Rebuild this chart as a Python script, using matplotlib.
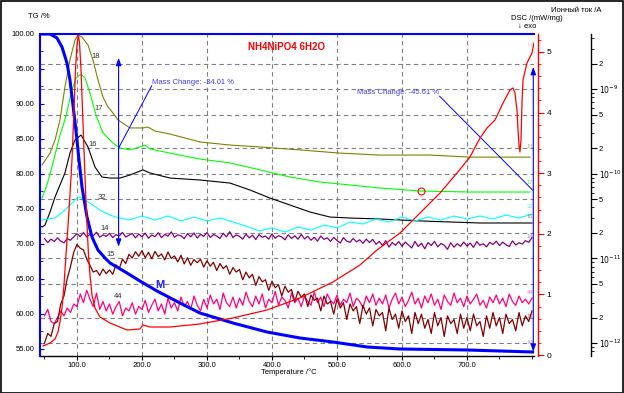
import numpy as np
import matplotlib
matplotlib.use("Agg")
import matplotlib.pyplot as plt
from matplotlib.ticker import (FixedLocator, MultipleLocator, LogLocator,
                               NullFormatter, FuncFormatter)
from matplotlib.patches import Rectangle

plt.rcParams['font.family'] = ['Liberation Sans', 'DejaVu Sans']

W, H = 624, 393

# ---- TG, mass %
tg_t = [43, 58.5, 69.2, 76.9, 84.6, 89.2, 93.8, 96.9, 100.0, 103.1, 107.7, 115.4,
        123.1, 132.3, 143.1, 150.8, 176.9, 196.9, 223.0, 258.5, 289.2, 340.0,
        392.3, 443.1, 493.8, 546.2, 596.9, 700.0, 801.5]
tg_m = [100, 100, 99.43, 98.14, 95.86, 93.43, 89.86, 87.43, 84.86, 82.0, 78.14, 73.86,
        71.0, 69.14, 68.0, 67.29, 65.86, 64.71, 63.29, 61.57, 60.14, 58.71,
        57.43, 56.57, 56.0, 55.29, 55.0, 54.86, 54.57]

# ---- DSC, mW/mg
dsc_t = [47.7, 58.5, 66.2, 70.8, 73.8, 76.9, 80.0, 83.1, 86.2, 89.2, 92.3, 95.4, 97.7,
         100.0, 102.0, 103.8, 106.2, 108.5, 110.8, 113.1, 115.4, 117.7, 120.0, 123.1,
         127.7, 135.4, 150.8, 176.9, 196.9, 201.5, 212.3, 243.1, 289.2, 340.0, 392.3,
         443.1, 493.8, 535.4, 561.5, 596.9, 627.7, 658.5, 684.6, 704.6, 720.0, 730.8,
         743.1, 755.4, 766.2, 770.8, 773.8, 776.9, 778.5, 780.0, 781.5, 783.1, 784.6,
         786.2, 792.3, 800.0, 803.0]
dsc_v = [0.149, 0.198, 0.264, 0.380, 0.545, 0.776, 1.155, 1.650, 2.145, 2.640, 3.218,
         4.043, 4.703, 5.116, 5.281, 5.165, 4.703, 4.043, 3.383, 2.723, 2.145, 1.650,
         1.320, 0.990, 0.776, 0.627, 0.528, 0.413, 0.429, 0.495, 0.462, 0.462, 0.512,
         0.611, 0.743, 0.941, 1.205, 1.485, 1.733, 2.013, 2.343, 2.673, 3.003, 3.267,
         3.581, 3.746, 3.878, 4.158, 4.373, 4.406, 4.323, 4.043, 3.713, 3.465, 3.350,
         3.548, 4.158, 4.538, 4.818, 4.983, 5.149]

# ---- ion currents, A
ms18_t = [46.2, 58.5, 66.2, 73.8, 81.5, 89.2, 96.9, 101.5, 107.7, 116.9, 124.6, 132.3,
          140.0, 147.7, 155.4, 163.1, 181.5, 201.5, 209.2, 220.0, 243.1, 289.2, 335.4,
          381.5, 443.1, 504.6, 566.2, 643.1, 704.6, 796.9]
ms18_i = [1.27e-10, 1.75e-10, 2.50e-10, 4.31e-10, 1.06e-9, 2.20e-9, 3.79e-9, 4.35e-9,
          4.11e-9, 3.30e-9, 2.20e-9, 1.28e-9, 8.04e-10, 6.13e-10, 5.21e-10, 4.31e-10,
          3.47e-10, 3.47e-10, 3.56e-10, 3.19e-10, 2.94e-10, 2.37e-10, 2.18e-10,
          2.07e-10, 1.91e-10, 1.75e-10, 1.66e-10, 1.66e-10, 1.57e-10, 1.57e-10]

ms17_t = [46.2, 53.8, 63.1, 73.8, 81.5, 86.2, 92.3, 98.5, 106.2, 112.3, 120.0, 129.2,
          140.0, 155.4, 166.2, 181.5, 196.9, 204.6, 212.3, 243.1, 289.2, 335.4, 381.5,
          427.7, 473.8, 520.0, 566.2, 627.7, 704.6, 796.9]
ms17_i = [5.16e-11, 7.36e-11, 1.34e-10, 2.86e-10, 4.31e-10, 6.13e-10, 9.7e-10, 1.35e-9,
          1.50e-9, 1.35e-9, 8.97e-10, 4.93e-10, 3.03e-10, 2.30e-10, 2.01e-10, 1.91e-10,
          2.07e-10, 2.18e-10, 1.96e-10, 1.75e-10, 1.49e-10, 1.34e-10, 1.11e-10,
          9.14e-11, 7.98e-11, 7.36e-11, 6.78e-11, 6.25e-11, 6.08e-11, 6.08e-11]

ms16_t = [46.2, 50.8, 58.5, 66.2, 73.8, 81.5, 89.2, 96.9, 106.2, 116.9, 127.7, 138.5,
          150.8, 166.2, 181.5, 201.5, 212.3, 243.1, 289.2, 335.4, 366.2, 396.9, 427.7,
          458.5, 489.2, 520.0, 566.2, 627.7, 720.0, 800.0]
ms16_i = [2.35e-11, 2.48e-11, 3.53e-11, 5.31e-11, 7.36e-11, 1.02e-10, 1.75e-10, 2.50e-10,
          2.86e-10, 2.07e-10, 1.20e-10, 9.14e-11, 8.89e-11, 8.89e-11, 9.66e-11, 1.11e-10,
          1.02e-10, 8.89e-11, 8.43e-11, 7.76e-11, 6.42e-11, 5.16e-11, 4.27e-11,
          3.53e-11, 3.08e-11, 3.00e-11, 2.92e-11, 2.77e-11, 2.62e-11, 2.62e-11]

ms32_t = [46.2, 66.2, 81.5, 96.9, 104.6, 120.0, 135.4, 150.8, 160, 180, 200, 220, 240,
          260, 280, 300, 320, 340, 360, 380, 400, 420, 440, 460, 480, 500, 520, 540,
          560, 580, 600, 620, 640, 660, 680, 700, 720, 740, 760, 780, 800]
ms32_i = [2.84e-11, 3.00e-11, 3.72e-11, 4.89e-11, 5.31e-11, 4.51e-11, 3.72e-11, 3.25e-11,
          3.08e-11, 2.84e-11, 3.17e-11, 2.84e-11, 3.17e-11, 2.77e-11, 3.08e-11, 2.77e-11,
          3.00e-11, 2.69e-11, 2.41e-11, 2.11e-11, 2.29e-11, 2.05e-11, 2.35e-11, 2.16e-11,
          2.48e-11, 2.29e-11, 2.69e-11, 2.55e-11, 2.92e-11, 2.69e-11, 3.08e-11, 2.77e-11,
          3.08e-11, 2.84e-11, 3.17e-11, 2.92e-11, 3.17e-11, 2.92e-11, 3.25e-11, 3.00e-11,
          3.34e-11]

# noisy channels, read every 5 C from 50 to 800, in pA
t5 = np.arange(50, 801, 5)
ms14_pa = [17.2, 15.4, 16.9, 15.8, 17.5, 16.0, 15.3, 17.1, 16.4, 18.0,
           19.6, 18.1, 20.2, 17.9, 19.3, 18.5, 20.4, 17.8, 19.0, 18.2,
           19.8, 17.6, 19.1, 18.4, 20.3, 17.9, 18.8, 19.7, 17.5, 19.4,
           18.0, 19.9, 17.3, 18.9, 18.1, 20.1, 17.6, 19.2, 18.3, 20.6,
           17.8, 19.0, 18.5, 17.1, 19.6, 18.0, 20.0, 17.4, 19.3, 18.2,
           20.2, 17.7, 19.1, 18.4, 17.2, 19.8, 18.0, 20.7, 17.6, 19.0,
           18.2, 16.9, 19.4, 17.5, 18.8, 16.7, 19.1, 17.8, 18.4, 16.9,
           19.5, 17.3, 18.6, 17.9, 16.6, 19.0, 17.2, 18.5, 16.9, 19.2,
           17.0, 18.3, 16.4, 17.8, 16.0, 18.4, 16.8, 17.5, 15.9, 17.7,
           16.3, 15.2, 17.6, 16.0, 15.5, 17.2, 15.7, 16.6, 15.1, 16.9,
           15.4, 16.8, 14.7, 15.9, 14.2, 16.2, 13.6, 15.4, 14.3, 15.8,
           13.9, 15.6, 14.4, 13.3, 15.9, 13.8, 15.1, 13.0, 15.4, 14.2,
           15.9, 13.7, 15.0, 14.3, 12.8, 15.3, 13.6, 14.9, 13.9, 15.6,
           14.0, 15.2, 13.5, 15.8, 14.3, 14.9, 13.7, 15.5, 14.6, 16.0,
           14.2, 15.6, 14.5, 13.8, 16.1, 14.4, 15.3, 14.8, 16.2, 15.5,
           17.6]
ms15_pa = [1.0, 1.3, 1.2, 1.7, 1.8, 2.9, 3.6, 5.8, 8.0, 11.8,
           14.6, 13.2, 12.6, 9.8, 8.3, 6.9, 7.2, 6.3, 7.5, 6.6,
           7.3, 6.5, 8.4, 7.6, 9.8, 8.7, 11.2, 10.1, 12.0, 10.6,
           12.4, 10.2, 11.8, 9.9, 12.1, 10.5, 11.3, 9.6, 11.9, 10.0,
           10.7, 9.1, 10.9, 8.6, 10.2, 8.3, 9.7, 8.9, 9.8, 7.9,
           9.4, 8.1, 9.0, 7.2, 8.7, 7.6, 8.2, 6.5, 7.8, 6.9,
           7.4, 5.6, 6.9, 5.9, 6.5, 4.8, 6.1, 5.3, 5.6, 4.2,
           5.4, 4.5, 4.9, 3.6, 4.7, 4.0, 4.3, 3.1, 4.1, 3.5,
           3.8, 2.7, 3.7, 3.2, 3.4, 2.4, 3.6, 2.9, 3.1, 2.2,
           3.3, 2.6, 3.0, 1.9, 2.9, 2.4, 2.7, 1.7, 2.8, 2.2,
           2.6, 1.6, 2.5, 2.1, 2.3, 1.4, 2.6, 1.9, 2.2, 1.5,
           2.4, 1.8, 2.1, 1.3, 2.3, 1.7, 2.2, 1.5, 1.9, 1.3,
           2.3, 1.6, 2.0, 1.2, 2.1, 1.7, 1.9, 1.3, 2.2, 1.5,
           2.0, 1.4, 2.2, 1.6, 1.8, 1.2, 2.1, 1.5, 2.3, 1.6,
           2.0, 1.3, 2.2, 1.7, 1.9, 1.4, 2.3, 1.6, 2.1, 1.8,
           2.4]
ms44_pa = [2.1, 2.5, 1.8, 1.7, 2.0, 2.4, 2.1, 2.6, 2.3, 2.9,
           2.7, 3.8, 3.0, 4.2, 3.3, 2.7, 3.9, 2.5, 3.1, 2.4,
           2.9, 2.2, 2.7, 3.1, 2.1, 2.6, 2.4, 3.0, 2.2, 2.7,
           2.5, 3.2, 2.3, 2.8, 3.3, 2.4, 2.9, 2.2, 3.4, 2.6,
           3.0, 2.4, 3.5, 2.7, 3.1, 2.5, 3.6, 2.8, 2.4, 3.3,
           2.6, 3.7, 2.9, 3.3, 2.5, 3.9, 3.0, 2.7, 3.5, 2.6,
           3.4, 2.8, 4.0, 3.1, 2.7, 3.6, 2.9, 3.8, 2.6, 3.3,
           3.0, 4.1, 2.8, 3.5, 3.2, 2.6, 3.9, 3.0, 3.4, 2.7,
           3.6, 3.1, 2.8, 4.0, 3.0, 3.5, 2.7, 3.8, 3.2, 2.9,
           3.7, 2.8, 3.3, 3.0, 3.9, 2.7, 3.4, 3.1, 2.6, 3.6,
           3.0, 3.8, 2.8, 3.4, 2.9, 3.7, 2.6, 3.3, 3.9, 2.9,
           3.5, 2.7, 3.2, 4.0, 2.9, 3.4, 2.6, 3.6, 3.0, 3.8,
           2.8, 3.3, 2.5, 3.7, 3.1, 2.8, 3.9, 3.0, 3.4, 2.7,
           3.6, 2.9, 3.3, 3.8, 2.8, 3.2, 2.6, 3.5, 3.0, 3.7,
           2.9, 3.4, 2.7, 3.8, 3.1, 2.8, 3.6, 3.0, 3.3, 2.9,
           3.4]

circle_t = [630]
circle_i = [6.2e-11]

# mass change steps (T, TG%)
step1_t, step1_top, step1_bot = 164, 96.6, 69.6
step1_lead = ([164, 215], [83.7, 92.6])
step2_t, step2_top, step2_bot = 802, 95.3, 54.6
step2_lead = ([658, 801], [91.1, 77.7])


def fpos(x, y):
    return x / W, 1 - y / H


fig = plt.figure(figsize=(W / 100, H / 100), dpi=100)
ax = fig.add_axes([40 / W, 37 / H, 494 / W, 322 / H])
ax_tg = ax.twinx()
ax_dsc = ax.twinx()

# host: temperature + ion current (log, far right)
ax.set_yscale('log')
ax.set_ylim(7.05e-13, 4.46e-9)
ax.set_xlim(43.1, 803.1)
ax.yaxis.tick_right()
ax.spines['right'].set_position(('outward', 41))
ax.spines['left'].set_visible(False)
ax.spines['top'].set_visible(False)
ax.spines['bottom'].set_linewidth(1.0)
ax.spines['right'].set_linewidth(1.0)

ion_major = [1e-12, 2e-12, 5e-12, 1e-11, 2e-11, 5e-11, 1e-10, 2e-10, 5e-10, 1e-9, 2e-9]


def ion_fmt(v, pos):
    e = int(np.floor(np.log10(v) + 1e-9))
    m = int(round(v / 10 ** e))
    return f'$10^{{{e}}}$' if m == 1 else str(m)


ax.yaxis.set_major_locator(FixedLocator(ion_major))
ax.yaxis.set_major_formatter(FuncFormatter(ion_fmt))
ax.yaxis.set_minor_locator(LogLocator(base=10, subs=(3, 4, 6, 7, 8, 9), numticks=30))
ax.yaxis.set_minor_formatter(NullFormatter())
ax.xaxis.set_major_locator(FixedLocator([100, 200, 300, 400, 500, 600, 700]))
ax.xaxis.set_minor_locator(MultipleLocator(50))
ax.xaxis.set_major_formatter(FuncFormatter(lambda v, p: f'{v:.1f}'))
ax.tick_params(axis='y', which='major', direction='out', length=4, width=0.8,
               labelsize=5.5, pad=1.5)
ax.tick_params(axis='y', which='minor', direction='out', length=2, width=0.6)
ax.tick_params(axis='x', which='major', direction='out', length=3, width=0.8,
               labelsize=5.5, pad=1.5)
ax.tick_params(axis='x', which='minor', direction='out', length=2, width=0.6)
ax.grid(True, which='major', color='#808080', ls=(0, (4, 3)), lw=0.8)

ax.plot(ms18_t, ms18_i, color='#808000', lw=0.8)
ax.plot(ms17_t, ms17_i, color='#00ff00', lw=0.8)
ax.plot(ms16_t, ms16_i, color='black', lw=0.8)
ax.plot(ms32_t, ms32_i, color='#00ffff', lw=0.8)
ax.plot(t5, np.array(ms14_pa) * 1e-12, color='#800080', lw=0.9)
ax.plot(t5, np.array(ms44_pa) * 1e-12, color='#ff0080', lw=0.9)
ax.plot(t5, np.array(ms15_pa) * 1e-12, color='#800000', lw=0.9)
ax.plot(circle_t, circle_i, 'o', mfc='none', mec='red', ms=5, mew=0.8)

# TG axis, left
ax_tg.set_ylim(54.0, 100.0)
ax_tg.yaxis.tick_left()
ax_tg.spines['right'].set_visible(False)
ax_tg.spines['bottom'].set_visible(False)
for s in ('left', 'top'):
    ax_tg.spines[s].set_color('#0000ff')
    ax_tg.spines[s].set_linewidth(1.5)
ax_tg.yaxis.set_major_locator(MultipleLocator(5))
ax_tg.yaxis.set_minor_locator(MultipleLocator(2.5))
ax_tg.yaxis.set_major_formatter(FuncFormatter(lambda v, p: f'{v:.2f}'))
ax_tg.tick_params(axis='y', which='major', direction='in', length=3, width=0.8,
                  colors='#0000ff', labelcolor='black', labelsize=5.5, pad=4)
ax_tg.tick_params(axis='y', which='minor', direction='in', length=2, width=0.6,
                  colors='#0000ff')
ax_tg.plot(tg_t, tg_m, color='#0000ff', lw=2.2)

arrow = dict(arrowstyle='<|-|>,head_length=0.45,head_width=0.16', color='#0000ff',
             lw=0.8, shrinkA=0, shrinkB=0)
ax_tg.annotate('', xy=(step1_t, step1_bot), xytext=(step1_t, step1_top), arrowprops=arrow)
ax_tg.annotate('', xy=(step2_t, step2_bot), xytext=(step2_t, step2_top), arrowprops=arrow)
ax_tg.plot(*step1_lead, color='#0000ff', lw=0.7)
ax_tg.plot(*step2_lead, color='#0000ff', lw=0.7)
ax_tg.text(216, 93.1, 'Mass Change: -34.01 %', color='#3c3cff', fontsize=5.5,
           ha='left', va='center')
ax_tg.text(657, 91.7, 'Mass Change: -45.61 %', color='#3c3cff', fontsize=5.5,
           ha='right', va='center')

# DSC axis, red
ax_dsc.set_ylim(-0.0165, 5.297)
ax_dsc.spines['right'].set_position(('outward', 3))
ax_dsc.spines['right'].set_color('red')
ax_dsc.spines['right'].set_linewidth(1.0)
for s in ('left', 'top', 'bottom'):
    ax_dsc.spines[s].set_visible(False)
ax_dsc.yaxis.set_major_locator(MultipleLocator(1))
ax_dsc.yaxis.set_minor_locator(MultipleLocator(0.2))
ax_dsc.yaxis.set_major_formatter(FuncFormatter(lambda v, p: f'{v:.0f}'))
ax_dsc.tick_params(axis='y', which='major', direction='out', length=4, width=0.8,
                   colors='red', labelcolor='black', labelsize=6, pad=2)
ax_dsc.tick_params(axis='y', which='minor', direction='out', length=2.5, width=0.6,
                   colors='red')
ax_dsc.plot(dsc_t, dsc_v, color='red', lw=0.9)

# texts
fig.text(*fpos(39, 17), 'TG /%', fontsize=5.5, ha='center', va='center')
fig.text(*fpos(286, 47), 'NH4NiPO4 6H2O', color='red', fontsize=7, fontweight='bold',
         ha='center', va='center')
fig.text(*fpos(537, 18), 'DSC /(mW/mg)', fontsize=5.5, ha='center', va='center')
fig.text(*fpos(527, 27), '↓ exo', fontsize=5.5, ha='center', va='center')
fig.text(*fpos(576, 10), 'Ионный ток /A', fontsize=5.5, ha='center', va='center')
fig.text(*fpos(289, 372), 'Temperature /°C', fontsize=5.5, ha='center', va='center')
fig.text(*fpos(160, 285), 'M', color='#2020ff', fontsize=8, fontweight='bold',
         ha='center', va='center')

curve_labels = [('18', 96, 57), ('17', 99, 109), ('16', 93, 145), ('32', 102, 198),
                ('14', 105, 228), ('15', 111, 254), ('44', 118, 297)]
for txt, x, y in curve_labels:
    fig.text(*fpos(x, y), txt, color='#303030', fontsize=5.5, ha='center', va='center')

end_labels = [('H', '#ff6060', 44), ('18', '#808000', 146), ('17', '#00c000', 182),
              ('32', '#00c0c0', 207), ('16', '#404040', 216), ('14', '#800080', 236),
              ('44', '#ff0080', 292), ('15', '#800000', 316), ('M', '#4040ff', 342)]
for txt, c, y in end_labels:
    fig.text(*fpos(530, y), txt, color=c, fontsize=4, alpha=0.55, ha='center',
             va='center')

fig.add_artist(Rectangle((0.5 / W, 0.5 / H), (W - 1.5) / W, (H - 1.5) / H,
                         transform=fig.transFigure, fill=False, lw=1.2,
                         edgecolor='black'))

fig.savefig('out.png', dpi=100)
